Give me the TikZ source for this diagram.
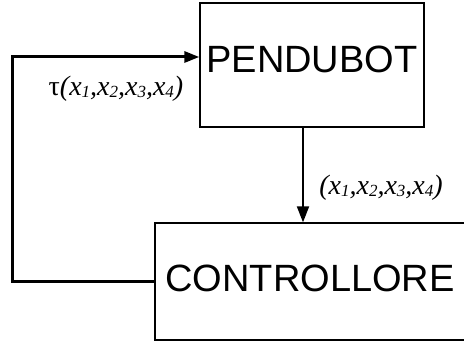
\documentclass[tikz,border=0pt]{standalone}
\usepackage{fontspec}
\setmainfont{Liberation Serif}
\newfontfamily\boxfont{Liberation Sans}
\usetikzlibrary{arrows.meta,calc}

\tikzset{
  block/.style={draw, line width=1.3pt, fill=white, inner sep=0pt,
    font=\boxfont\fontsize{38}{40}\selectfont},
  loopline/.style={line width=3pt},
  sigline/.style={line width=2pt},
  sig/.style={inner sep=0pt, font=\fontsize{28}{30}\selectfont}
}
\newcommand{\xsub}[1]{x{\fontsize{17}{18}\selectfont\raisebox{-2pt}{#1}}}

\begin{document}
\begin{tikzpicture}[x=1pt,y=1pt]
  \useasboundingbox (0,0) rectangle (464,342);
  \clip (0,0) rectangle (464,342);

  % plant and controller blocks
  \node[block, minimum width=224pt, minimum height=124pt, text depth=12pt]
    (pend) at (312,277) {PENDUBOT};
  \node[block, minimum width=310pt, minimum height=117pt, text depth=6pt]
    (ctrl) at (310,60.5) {CONTROLLORE};

  % feedback loop: controller output back to the plant input
  \coordinate (L) at (12,0);
  \coordinate (in) at ([yshift=8pt]pend.west);
  \draw[loopline, -{Triangle[length=15pt,width=11pt]}]
    (ctrl.west) -- (L |- ctrl.west) -- (L |- in) -- (in);

  % state measurement from the plant to the controller
  \coordinate (out) at ([xshift=-9pt]pend.south);
  \draw[sigline, -{Triangle[length=16pt,width=12pt]}]
    (out) -- (out |- ctrl.north);

  % signal labels
  \node[sig] (tau) at (116,253)
    {τ\textit{(\xsub{1},\xsub{2},\xsub{3},\xsub{4})}};
  \node[sig] (state) at (381,154)
    {\textit{(\xsub{1},\xsub{2},\xsub{3},\xsub{4})}};
\end{tikzpicture}
\end{document}
